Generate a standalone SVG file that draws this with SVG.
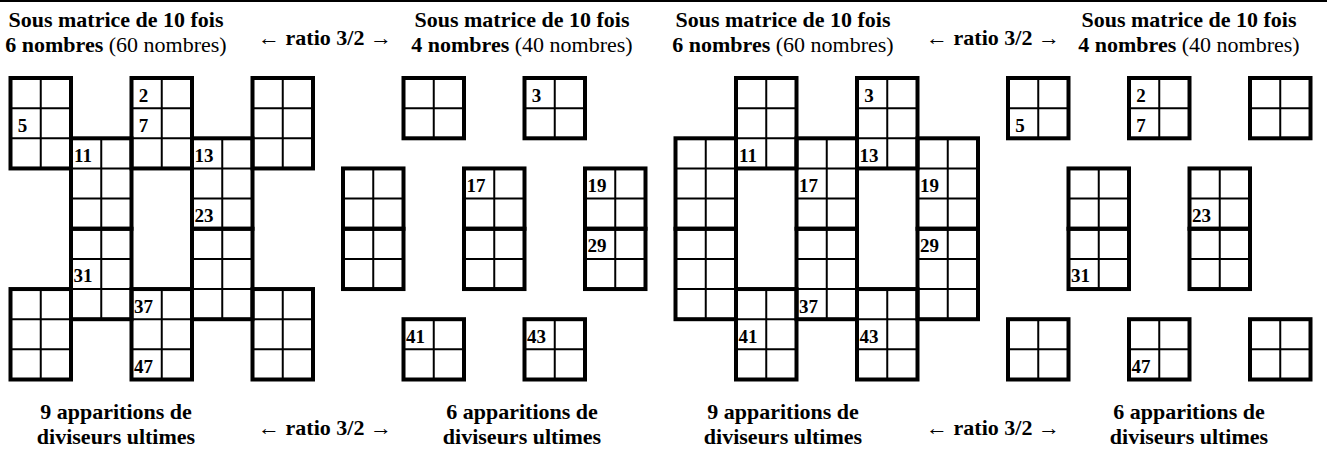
<svg xmlns="http://www.w3.org/2000/svg" width="1327" height="456" viewBox="0 0 1327 456">
<style>
.thk{fill:none;stroke:#000;stroke-width:4}
.thn{stroke:#000;stroke-width:2}
text{font-family:'Liberation Serif','Times New Roman','DejaVu Serif',serif;fill:#000;font-weight:bold;text-anchor:middle}
.n{font-size:19px}
.h{font-size:22px}
.r{font-weight:normal}
</style>
<defs>
<g id="b23">
<line class="thn" x1="30.25" y1="0" x2="30.25" y2="90.45"/>
<line class="thn" x1="0" y1="30.15" x2="60.5" y2="30.15"/>
<line class="thn" x1="0" y1="60.3" x2="60.5" y2="60.3"/>
<rect class="thk" x="0" y="0" width="60.5" height="90.45"/>
</g>
<g id="b22">
<line class="thn" x1="30.25" y1="0" x2="30.25" y2="60.3"/>
<line class="thn" x1="0" y1="30.15" x2="60.5" y2="30.15"/>
<rect class="thk" x="0" y="0" width="60.5" height="60.3"/>
</g>
</defs>
<rect x="0" y="0" width="1327" height="456" fill="#fff"/>
<line x1="0" y1="1" x2="1327" y2="1" stroke="#000" stroke-width="2"/>

<g id="headers" font-family="Liberation Serif, serif">
<text class="h" x="116" y="27">Sous matrice de 10 fois</text>
<text class="h" x="116" y="52">6 nombres<tspan class="r"> (60 nombres)</tspan></text>
<text class="h" x="325" y="45">← ratio 3/2 →</text>
<text class="h" x="522" y="27">Sous matrice de 10 fois</text>
<text class="h" x="522" y="52">4 nombres<tspan class="r"> (40 nombres)</tspan></text>
<text class="h" x="783" y="27">Sous matrice de 10 fois</text>
<text class="h" x="783" y="52">6 nombres<tspan class="r"> (60 nombres)</tspan></text>
<text class="h" x="993" y="45">← ratio 3/2 →</text>
<text class="h" x="1189" y="27">Sous matrice de 10 fois</text>
<text class="h" x="1189" y="52">4 nombres<tspan class="r"> (40 nombres)</tspan></text>
</g>

<g id="panel1" transform="translate(10.5,78)">
<use href="#b23" x="0" y="0"/>
<use href="#b23" x="0" y="211.05"/>
<use href="#b23" x="60.5" y="60.3"/>
<use href="#b23" x="60.5" y="150.75"/>
<use href="#b23" x="121" y="0"/>
<use href="#b23" x="121" y="211.05"/>
<use href="#b23" x="181.5" y="60.3"/>
<use href="#b23" x="181.5" y="150.75"/>
<use href="#b23" x="242" y="0"/>
<use href="#b23" x="242" y="211.05"/>
<text class="n" x="133" y="23.5">2</text>
<text class="n" x="12" y="53.65">5</text>
<text class="n" x="133" y="53.65">7</text>
<text class="n" x="72.5" y="83.8">11</text>
<text class="n" x="193.5" y="83.8">13</text>
<text class="n" x="193.5" y="144.1">23</text>
<text class="n" x="72.5" y="204.4">31</text>
<text class="n" x="133" y="234.55">37</text>
<text class="n" x="133" y="294.85">47</text>
</g>

<g id="panel2" transform="translate(343,78)">
<use href="#b22" x="60.5" y="0"/>
<use href="#b22" x="181.5" y="0"/>
<use href="#b22" x="0" y="90.45"/>
<use href="#b22" x="0" y="150.75"/>
<use href="#b22" x="121" y="90.45"/>
<use href="#b22" x="121" y="150.75"/>
<use href="#b22" x="242" y="90.45"/>
<use href="#b22" x="242" y="150.75"/>
<use href="#b22" x="60.5" y="241.2"/>
<use href="#b22" x="181.5" y="241.2"/>
<text class="n" x="193.5" y="23.5">3</text>
<text class="n" x="133" y="113.95">17</text>
<text class="n" x="254" y="113.95">19</text>
<text class="n" x="254" y="174.25">29</text>
<text class="n" x="72.5" y="264.7">41</text>
<text class="n" x="193.5" y="264.7">43</text>
</g>

<g id="panel3" transform="translate(675.5,78)">
<use href="#b23" x="60.5" y="0"/>
<use href="#b23" x="181.5" y="0"/>
<use href="#b23" x="0" y="60.3"/>
<use href="#b23" x="0" y="150.75"/>
<use href="#b23" x="121" y="60.3"/>
<use href="#b23" x="121" y="150.75"/>
<use href="#b23" x="242" y="60.3"/>
<use href="#b23" x="242" y="150.75"/>
<use href="#b23" x="60.5" y="211.05"/>
<use href="#b23" x="181.5" y="211.05"/>
<text class="n" x="193.5" y="23.5">3</text>
<text class="n" x="72.5" y="83.8">11</text>
<text class="n" x="193.5" y="83.8">13</text>
<text class="n" x="133" y="113.95">17</text>
<text class="n" x="254" y="113.95">19</text>
<text class="n" x="254" y="174.25">29</text>
<text class="n" x="133" y="234.55">37</text>
<text class="n" x="72.5" y="264.7">41</text>
<text class="n" x="193.5" y="264.7">43</text>
</g>

<g id="panel4" transform="translate(1008,78)">
<use href="#b22" x="0" y="0"/>
<use href="#b22" x="121" y="0"/>
<use href="#b22" x="242" y="0"/>
<use href="#b22" x="60.5" y="90.45"/>
<use href="#b22" x="60.5" y="150.75"/>
<use href="#b22" x="181.5" y="90.45"/>
<use href="#b22" x="181.5" y="150.75"/>
<use href="#b22" x="0" y="241.2"/>
<use href="#b22" x="121" y="241.2"/>
<use href="#b22" x="242" y="241.2"/>
<text class="n" x="12" y="53.65">5</text>
<text class="n" x="133" y="23.5">2</text>
<text class="n" x="133" y="53.65">7</text>
<text class="n" x="193.5" y="144.1">23</text>
<text class="n" x="72.5" y="204.4">31</text>
<text class="n" x="133" y="294.85">47</text>
</g>

<g id="footers">
<text class="h" x="116" y="419">9 apparitions de</text>
<text class="h" x="116" y="444">diviseurs ultimes</text>
<text class="h" x="325" y="435">← ratio 3/2 →</text>
<text class="h" x="522" y="419">6 apparitions de</text>
<text class="h" x="522" y="444">diviseurs ultimes</text>
<text class="h" x="783" y="419">9 apparitions de</text>
<text class="h" x="783" y="444">diviseurs ultimes</text>
<text class="h" x="993" y="435">← ratio 3/2 →</text>
<text class="h" x="1189" y="419">6 apparitions de</text>
<text class="h" x="1189" y="444">diviseurs ultimes</text>
</g>
</svg>
